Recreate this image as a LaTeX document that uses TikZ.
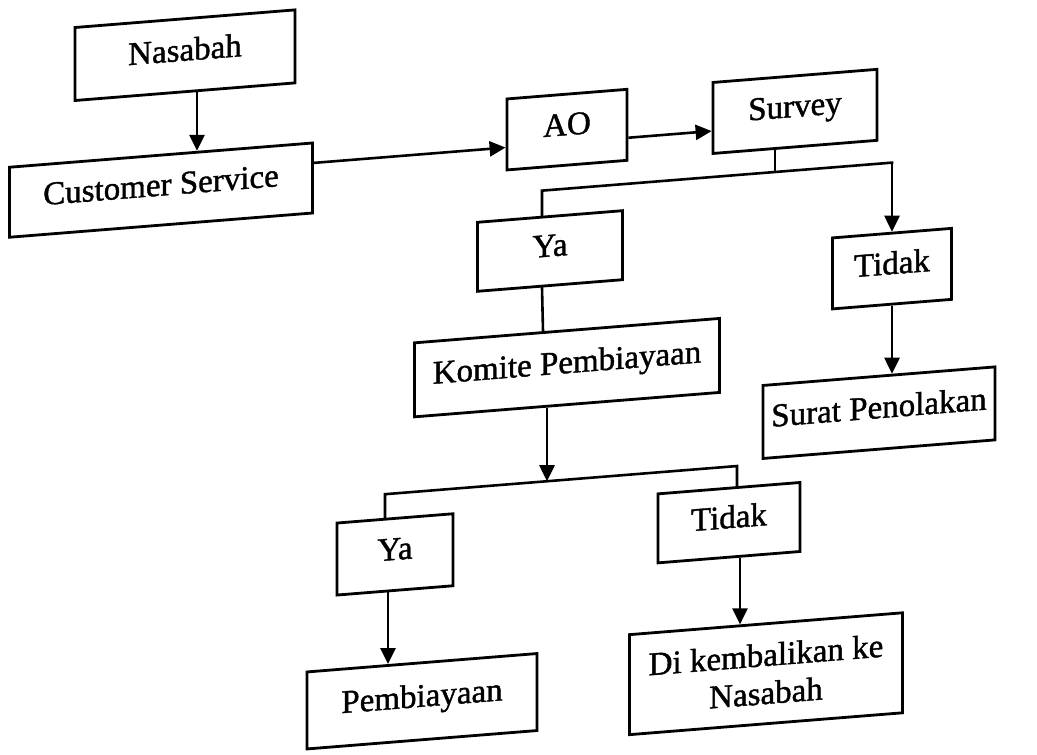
\documentclass[tikz,border=0pt]{standalone}
\usepackage{fontspec}
\setmainfont{Liberation Serif}[FakeBold=1.2]
\usetikzlibrary{arrows.meta}

\tikzset{
  box/.style={draw, line width=2.8pt, transform shape,
    font=\fontsize{33}{36}\selectfont, text height=22pt, text depth=11pt},
  twobox/.style={draw, line width=2.8pt, transform shape,
    font=\fontsize{33}{38}\selectfont, align=center},
  garis/.style={line width=2.6pt, line cap=rect},
  arr/.style={line width=2.6pt, -{Triangle[length=16pt,width=15pt]}},
}

\begin{document}
\begin{tikzpicture}[x=1pt,y=-1pt]
\useasboundingbox (0,0) rectangle (1037,755);
\begin{scope}[yslant=0.08]
% boxes
\node[box, minimum width=220pt, minimum height=73pt] (nasabah) at (185,70) {Nasabah};
\node[box, minimum width=303pt, minimum height=70pt] (cs) at (161,203) {Customer Service};
\node[box, minimum width=120pt, minimum height=71pt] (ao) at (567,175) {AO};
\node[box, minimum width=164pt, minimum height=71pt] (survey) at (795,175) {Survey};
\node[box, minimum width=145pt, minimum height=69pt] (ya) at (550,295) {Ya};
\node[box, minimum width=119pt, minimum height=71pt] (tidak) at (892,340) {Tidak};
\node[box, minimum width=305pt, minimum height=74pt] (komite) at (567,413) {Komite Pembiayaan};
\node[box, minimum width=232pt, minimum height=73pt] (surat) at (879,483) {Surat Penolakan};
\node[box, minimum width=116pt, minimum height=72pt] (ya2) at (395,586) {Ya};
\node[box, minimum width=142pt, minimum height=69pt] (tidak2) at (729,581) {Tidak};
\node[box, minimum width=230pt, minimum height=77pt] (biaya) at (422,735) {Pembiayaan};
\node[twobox, minimum width=273pt, minimum height=100pt] (kembali) at (766,735) {Di kembalikan ke\\Nasabah};

% branch points
\coordinate (j0) at (775,234);
\coordinate (jl) at (542,234);
\coordinate (jr) at (892,234);
\coordinate (k0) at (547,525);
\coordinate (kl) at (385,525);
\coordinate (kr) at (737,525);

% connectors
\draw[arr] ([xshift=12pt]nasabah.south) -- ([xshift=36pt]cs.north);
\draw[arr] ([yshift=15pt]cs.east) -- ([yshift=-13pt]ao.west);
\draw[arr] ([yshift=-13pt]ao.east) -- ([yshift=-13pt]survey.west);
\draw[garis] ([xshift=-20pt]survey.south) -- (j0);
\draw[garis] ([xshift=-8pt]ya.north) -- (jl) -- (jr);
\draw[arr] (jr) -- (tidak.north);
\draw[arr] (tidak.south) -- ([xshift=13pt]surat.north);
\draw[garis] ([xshift=-8pt]ya.south) -- ([xshift=-24pt]komite.north);
\draw[arr] ([xshift=-20pt]komite.south) -- (k0);
\draw[garis] ([xshift=-10pt]ya2.north) -- (kl) -- (kr) -- ([xshift=8pt]tidak2.north);
\draw[arr] ([xshift=-7pt]ya2.south) -- ([xshift=-34pt]biaya.north);
\draw[arr] ([xshift=11pt]tidak2.south) -- ([xshift=-26pt]kembali.north);
\end{scope}
\end{tikzpicture}
\end{document}
